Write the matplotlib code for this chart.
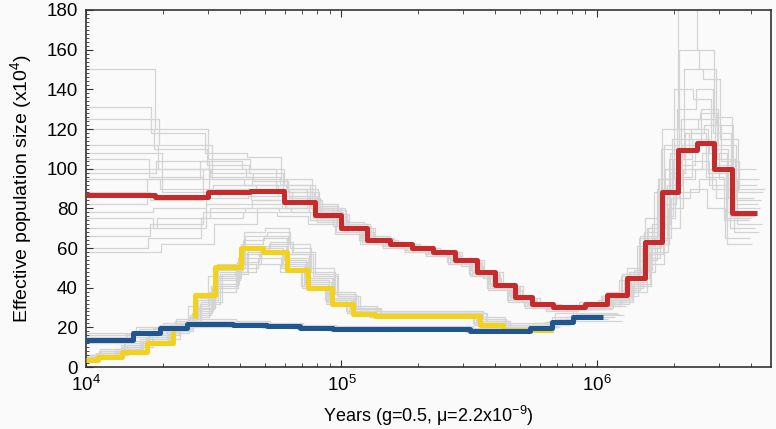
import matplotlib
matplotlib.use("Agg")
import matplotlib.pyplot as plt
from matplotlib.ticker import LogLocator, MultipleLocator

plt.rcParams['font.family'] = ['Liberation Sans', 'DejaVu Sans']
plt.rcParams['mathtext.fontset'] = 'custom'
plt.rcParams['mathtext.rm'] = 'Liberation Sans'

# step edges (years) and Ne values (x10^4)
red_t = [1.0e4, 1.86e4, 3.0e4, 4.39e4, 5.96e4, 7.87e4, 1.0e5, 1.26e5, 1.55e5, 1.89e5,
         2.28e5, 2.78e5, 3.39e5, 3.99e5, 4.78e5, 5.57e5, 6.73e5, 8.98e5, 1.09e6, 1.31e6,
         1.54e6, 1.80e6, 2.07e6, 2.46e6, 2.87e6, 3.37e6, 4.23e6]
red_n = [86.7, 85.6, 88, 88.6, 83.4, 76.6, 70, 64, 62, 60, 58, 54, 48, 41.4, 35.4, 32,
         30.4, 32, 36.3, 45, 63, 88, 109.4, 113, 100, 77.7]

yellow_t1 = [1.0e4, 1.11e4, 1.38e4, 1.73e4, 2.20e4, 2.23e4]
yellow_n1 = [3.5, 5.2, 7.7, 12.3, 17]
yellow_t2 = [2.67e4, 2.67e4, 3.2e4, 4.06e4, 4.94e4, 6.1e4, 7.4e4, 9.15e4, 1.11e5, 1.35e5,
             3.49e5, 4.29e5, 6.73e5]
yellow_n2 = [24.7, 36.3, 50.3, 59.8, 58.2, 48.9, 39.7, 32, 26.6, 25.6, 21.2, 18.7]

blue_t = [1.0e4, 1.53e4, 1.95e4, 2.48e4, 3.76e4, 5.10e4, 6.88e4, 9.27e4, 1.69e5, 3.18e5,
          5.47e5, 6.65e5, 8.08e5, 1.06e6]
blue_n = [13.6, 17, 19.8, 21.5, 21.2, 20.5, 19.8, 19, 19.4, 18.2, 19.8, 22.8, 25.4]

# bootstrap replicates (grey), same breakpoints, each a little shifted in time
shift = [1.0, 0.97, 1.03, 0.95, 1.05, 0.98, 1.02, 0.94, 1.06, 0.99, 1.01, 0.96,
         1.04, 0.93, 1.07, 0.985, 1.015, 0.955]

red_boot = [
    [150, 120, 105, 100, 92, 80, 72, 66, 63, 61, 59, 55, 49, 42, 36, 32, 31, 33, 38, 50, 75, 120, 190, 160, 126, 92],
    [131, 118, 108, 106, 95, 82, 73, 66, 63, 61, 58, 54, 48, 41, 35, 31, 30, 31, 35, 44, 60, 95, 140, 135, 110, 85],
    [112, 100, 98, 95, 90, 80, 72, 65, 62, 60, 57, 53, 47, 40, 34, 31, 30, 32, 37, 48, 70, 100, 125, 128, 105, 80],
    [105, 96, 95, 92, 86, 78, 71, 65, 63, 61, 59, 55, 49, 42, 36, 33, 31, 33, 36, 46, 65, 90, 115, 120, 98, 75],
    [95, 90, 92, 90, 85, 77, 70, 64, 61, 59, 57, 53, 47, 41, 35, 32, 30, 31, 34, 42, 58, 80, 100, 108, 95, 72],
    [78, 80, 85, 86, 82, 75, 69, 63, 61, 59, 57, 53, 47, 41, 35, 31, 29, 30, 33, 40, 55, 75, 95, 100, 90, 70],
    [70, 75, 80, 84, 80, 73, 68, 63, 61, 58, 56, 52, 46, 40, 34, 31, 29, 29, 32, 38, 52, 70, 88, 95, 85, 68],
    [60, 65, 75, 78, 76, 72, 67, 62, 60, 58, 56, 52, 46, 39, 33, 30, 28, 29, 31, 36, 48, 65, 85, 90, 80, 65],
    [58, 62, 72, 80, 78, 74, 68, 62, 60, 58, 56, 51, 45, 39, 33, 30, 29, 30, 33, 41, 62, 105, 150, 145, 115, 88],
    [120, 110, 102, 98, 88, 79, 70, 64, 62, 60, 57, 53, 47, 40, 34, 31, 30, 31, 35, 46, 68, 110, 130, 140, 118, 100],
    [100, 104, 88, 84, 80, 76, 70, 65, 62, 59, 57, 54, 48, 41, 35, 31, 30, 31, 34, 43, 57, 85, 120, 125, 102, 82],
    [88, 84, 100, 96, 92, 81, 71, 64, 62, 60, 58, 54, 48, 41, 35, 32, 30, 32, 36, 47, 66, 95, 105, 115, 108, 78],
    [125, 112, 95, 94, 88, 79, 71, 65, 62, 60, 58, 54, 48, 41, 35, 32, 30, 31, 35, 45, 64, 92, 112, 130, 112, 84],
    [82, 95, 104, 100, 90, 80, 71, 64, 61, 59, 57, 53, 47, 40, 34, 31, 29, 31, 34, 44, 61, 88, 108, 118, 96, 74],
    [108, 88, 90, 88, 84, 77, 70, 64, 62, 60, 58, 54, 48, 41, 35, 32, 31, 32, 37, 49, 72, 98, 118, 122, 104, 90],
    [75, 70, 82, 82, 80, 75, 69, 63, 61, 59, 57, 53, 47, 40, 34, 31, 29, 30, 33, 42, 60, 82, 102, 112, 100, 76],
    [98, 100, 96, 92, 86, 78, 70, 64, 62, 60, 58, 54, 48, 41, 35, 32, 30, 32, 36, 48, 70, 112, 160, 150, 122, 95],
    [66, 72, 78, 80, 78, 74, 68, 63, 61, 59, 57, 52, 46, 40, 34, 31, 29, 30, 32, 39, 54, 76, 96, 104, 92, 62],
]

yellow_boot_t = [1.0e4, 1.11e4, 1.38e4, 1.73e4, 2.2e4, 2.67e4, 3.2e4, 4.06e4, 4.94e4, 6.1e4,
                 7.4e4, 9.15e4, 1.11e5, 1.35e5, 3.49e5, 4.29e5, 6.73e5]
yellow_boot = [
    [5, 7, 10, 15, 20, 30, 45, 62, 65, 55, 45, 35, 29, 27, 23, 20],
    [4, 6, 9, 13, 19, 27, 40, 55, 60, 52, 42, 33, 28, 26, 22, 19],
    [6, 8, 12, 17, 22, 34, 50, 66, 68, 60, 48, 37, 30, 28, 24, 21],
    [4, 5, 8, 12, 17, 25, 38, 50, 55, 50, 40, 32, 27, 25, 21, 19],
    [5, 7, 11, 16, 21, 32, 48, 58, 62, 57, 46, 36, 29, 27, 23, 20],
    [3, 5, 8, 12, 18, 28, 42, 52, 57, 54, 44, 34, 28, 26, 22, 19],
    [6, 9, 13, 18, 24, 36, 52, 68, 70, 62, 50, 38, 31, 28, 25, 22],
    [4, 6, 9, 14, 20, 31, 46, 48, 52, 48, 41, 34, 28, 26, 22, 20],
    [5, 6, 10, 14, 21, 33, 47, 60, 63, 58, 47, 36, 30, 27, 23, 20],
    [4, 7, 11, 15, 20, 29, 44, 57, 61, 53, 43, 34, 28, 26, 22, 19],
    [5, 8, 10, 16, 23, 35, 49, 64, 66, 57, 45, 35, 29, 27, 23, 21],
    [3, 6, 9, 13, 18, 26, 41, 53, 58, 51, 41, 33, 27, 25, 21, 18],
]

blue_boot = [
    [15, 18, 21, 23, 22.5, 21.5, 20.5, 20, 20, 19, 21, 25, 29],
    [12, 15, 18, 20, 20, 19.5, 19, 18, 18.5, 17.5, 18.5, 21, 23],
    [17, 20, 22, 24, 23, 22, 21, 20.5, 20.5, 19.5, 22, 27, 31],
    [13, 16, 19, 21, 21, 20, 19.5, 19, 19, 18, 19, 22, 24],
    [16, 19, 21, 22, 21.5, 21, 20, 19.5, 19.8, 18.8, 20.5, 24, 27],
    [14, 17, 20, 22, 21.8, 20.8, 20, 19.2, 19.5, 18.5, 20, 23, 26],
    [14.5, 17.5, 20.5, 22.5, 22, 21, 20, 19.5, 19.6, 18.6, 20.2, 23.5, 26.5],
    [13.5, 16.5, 19.5, 21.5, 21.2, 20.2, 19.6, 18.8, 19.2, 18.2, 19.6, 22.5, 25],
]
blue_boot_end = [1.15e6, 1.25e6, 1.3e6, 1.1e6, 1.2e6, 1.28e6, 1.22e6, 1.18e6]

bg = '#fafafa'
fig = plt.figure(figsize=(7.76, 4.29), dpi=100, facecolor=bg)
ax = fig.add_axes([0.1108, 0.1445, 0.8828, 0.8322], facecolor=bg)


def draw_step(t, n, **kw):
    ax.step(t, list(n) + [n[-1]], where='post', solid_capstyle='butt', **kw)


grey = dict(color='#d4d4d4', lw=0.9, zorder=1)
for i, vals in enumerate(red_boot):
    t = [x * shift[i] for x in red_t]
    t[0] = 9.0e3
    draw_step(t, vals, **grey)
for i, vals in enumerate(yellow_boot):
    t = [x * shift[i] for x in yellow_boot_t]
    t[0] = 9.0e3
    draw_step(t, vals, **grey)
for i, vals in enumerate(blue_boot):
    t = [x * shift[i] for x in blue_t]
    t[0] = 9.0e3
    t[-1] = blue_boot_end[i]
    draw_step(t, vals, **grey)

draw_step(yellow_t1, yellow_n1, color='#f3d21c', lw=3.6, zorder=3)
draw_step(yellow_t2, yellow_n2, color='#f3d21c', lw=3.6, zorder=3)
draw_step(blue_t, blue_n, color='#1f5691', lw=3.6, zorder=4)
draw_step(red_t, red_n, color='#c62a2a', lw=3.6, zorder=5)

ax.set_xscale('log')
ax.set_xlim(1e4, 4.8e6)
ax.set_ylim(0, 180)
ax.xaxis.set_major_locator(LogLocator(base=10, numticks=10))
ax.xaxis.set_minor_locator(LogLocator(base=10, subs=range(2, 10), numticks=20))
ax.yaxis.set_major_locator(MultipleLocator(20))
ax.yaxis.set_minor_locator(MultipleLocator(2))

ax.tick_params(axis='x', which='both', direction='in', top=True, bottom=True,
               labelsize=13.5, pad=6, color='#333333')
ax.tick_params(axis='x', which='major', length=5)
ax.tick_params(axis='x', which='minor', length=3)
ax.tick_params(axis='y', which='both', direction='in', left=True, right=False,
               labelsize=13.5, color='#333333')
ax.tick_params(axis='y', which='major', length=5, pad=6)
ax.tick_params(axis='y', which='minor', length=2.5)

for s in ax.spines.values():
    s.set_color('#333333')
    s.set_linewidth(1.2)

ax.set_xlabel('Years (g=0.5, \u03bc=2.2x10$^{-9}$)', fontsize=13, labelpad=6)
ax.set_ylabel('Effective population size (x10$^4$)', fontsize=14, labelpad=8)

fig.savefig('out.png', dpi=100, facecolor=bg)
